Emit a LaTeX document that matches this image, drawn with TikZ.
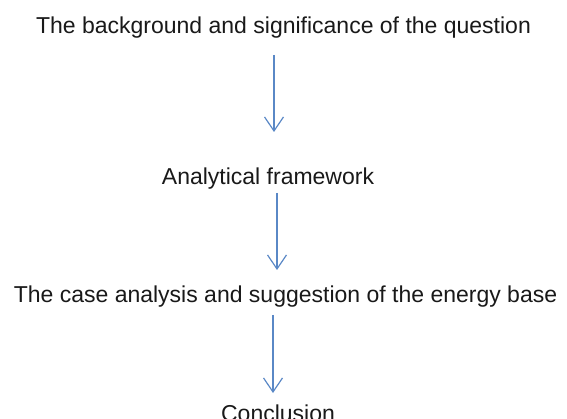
\documentclass[tikz,border=0pt]{standalone}
\usepackage{fontspec}
\setmainfont{Liberation Sans}
\usetikzlibrary{arrows.meta}
\definecolor{arrowblue}{HTML}{5A88C6}
\tikzset{
  lbl/.style={anchor=base, inner sep=0pt, font=\fontsize{23}{27}\selectfont, text=black!90},
  flow/.style={draw=arrowblue, line width=1.2pt, -{Straight Barb[length=14pt,width=19pt,line width=1.2pt]}}
}
\begin{document}
\begin{tikzpicture}[x=1pt,y=-1pt]
\useasboundingbox (0,0) rectangle (567,419);
\node[lbl] (t1) at (283.5,34) {The background and significance of the question};
\node[lbl] (t2) at (268,185) {Analytical framework};
\node[lbl] (t3) at (285.5,303) {The case analysis and suggestion of the energy base};
\node[lbl] (t4) at (278,421.5) {Conclusion};
\coordinate (a1s) at (274,55);
\coordinate (a1e) at (274,132);
\coordinate (a2s) at (277,193);
\coordinate (a2e) at (277,270);
\coordinate (a3s) at (273,315);
\coordinate (a3e) at (273,393);
\draw[flow] (a1s) -- (a1e);
\draw[flow] (a2s) -- (a2e);
\draw[flow] (a3s) -- (a3e);
\end{tikzpicture}
\end{document}
